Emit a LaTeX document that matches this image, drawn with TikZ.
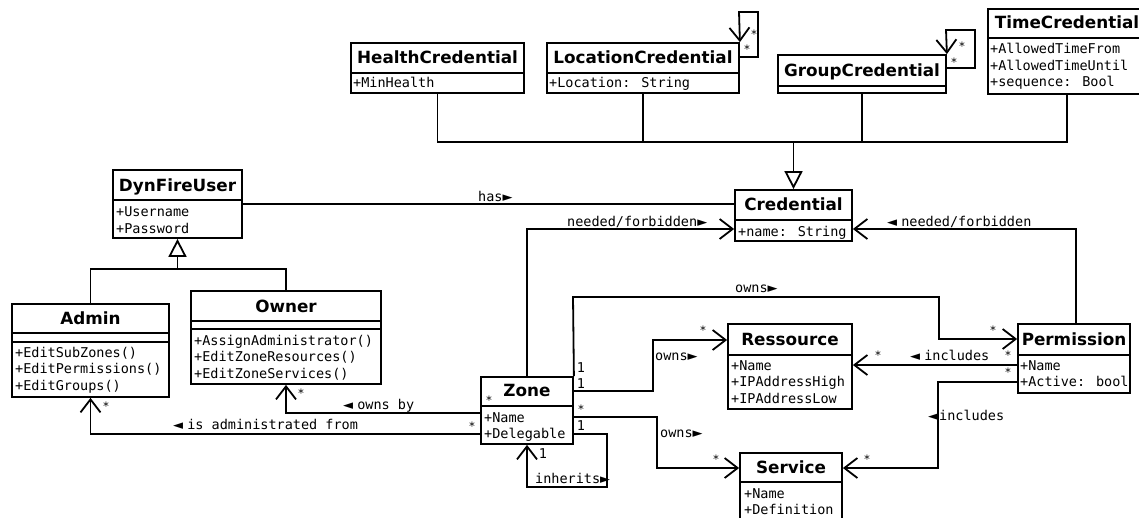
\documentclass[tikz,border=0pt]{standalone}
\usepackage{fontspec}
\usetikzlibrary{arrows.meta,fit}
\newfontfamily\dvsans{DejaVu Sans}
\newfontfamily\dvmono{DejaVu Sans Mono}
\newcommand\ttlfont{\dvsans\bfseries\fontsize{16.8}{20}\selectfont}
\newcommand\mymono{\dvmono\fontsize{13.5}{16.5}\selectfont}
\newcommand\rtri{{\dvsans\fontsize{13}{15}\selectfont ►}}
\newcommand\ltri{{\dvsans\fontsize{13}{15}\selectfont ◄ }}
\newcommand\ltrib{{\dvsans\fontsize{13}{15}\selectfont ◄}\kern1pt}
\tikzset{
  box/.style={draw, line width=1.8pt, inner sep=0pt, fill=white},
  sep/.style={line width=1.8pt},
  ttl/.style={font=\ttlfont, anchor=base, inner sep=0pt},
  att/.style={font=\mymono, anchor=base west, inner sep=0pt},
  lbl/.style={font=\mymono, anchor=base west, inner sep=0pt},
  mul/.style={font=\mymono, anchor=base, inner sep=0pt},
  star/.style={font=\dvmono\fontsize{11.5}{14}\selectfont, anchor=base, inner sep=0pt, yshift=1.1pt},
  conn/.style={line width=1.8pt},
  assoc/.style={conn, -{Straight Barb[length=13pt,width=20pt]}},
  gen/.style={conn, -{Triangle[open,length=18pt,width=18pt,fill=white]}}
}
% name, left, top, right, bottom, divider, title baseline, title
\newcommand\umlclass[8]{%
  \node[box, fit={(#2,#3) (#4,#5)}] (#1) {};
  \draw[sep] (#2,#6) -- (#4,#6);
  \node[ttl] (#1-t) at ({(#2+#4)/2},#7) {#8};
}
\begin{document}
\begin{tikzpicture}[x=1pt,y=-1pt]
\useasboundingbox (0,0) rectangle (1139,517);

% ---------- classes ----------
\umlclass{health}{351}{43}{524}{93}{73}{63.5}{HealthCredential}
\node[att] (health-a1) at (353,87.5) {+MinHealth};

\umlclass{location}{547}{43}{739}{93}{73}{63.5}{LocationCredential}
\node[att] (location-a1) at (549,87.5) {+Location: String};

\umlclass{group}{778}{55}{946}{93}{86}{76}{GroupCredential}

\umlclass{time}{988}{9}{1146}{94}{38}{28}{TimeCredential}
\node[att] (time-a1) at (990,53) {+AllowedTimeFrom};
\node[att] (time-a2) at (990,70) {+AllowedTimeUntil};
\node[att] (time-a3) at (990,86.5) {+sequence: Bool};

\umlclass{credential}{735}{190}{852}{241}{220}{210}{Credential}
\node[att] (credential-a1) at (738,236) {+name: String};

\umlclass{dynuser}{113}{170}{242}{238}{200}{191.5}{DynFireUser}
\node[att] (dynuser-a1) at (116,216) {+Username};
\node[att] (dynuser-a2) at (116,233) {+Password};

\umlclass{admin}{12}{304}{169}{397}{333}{324}{Admin}
\draw[sep] (12,342) -- (169,342);
\node[att] (admin-m1) at (15,357) {+EditSubZones()};
\node[att] (admin-m2) at (15,373.5) {+EditPermissions()};
\node[att] (admin-m3) at (15,390) {+EditGroups()};

\umlclass{owner}{191}{291}{381}{384}{321}{312}{Owner}
\draw[sep] (191,329) -- (381,329);
\node[att] (owner-m1) at (194,345) {+AssignAdministrator()};
\node[att] (owner-m2) at (194,361.5) {+EditZoneResources()};
\node[att] (owner-m3) at (194,378) {+EditZoneServices()};

\umlclass{zone}{481}{377}{573}{444}{406}{396.5}{Zone}
\node[att] (zone-a1) at (484,422) {+Name};
\node[att] (zone-a2) at (484,438) {+Delegable};

\umlclass{ressource}{728}{324}{852}{409}{355}{345}{Ressource}
\node[att] (ressource-a1) at (731,370) {+Name};
\node[att] (ressource-a2) at (731,386.5) {+IPAddressHigh};
\node[att] (ressource-a3) at (731,403) {+IPAddressLow};

\umlclass{permission}{1018}{324}{1130}{393}{355}{345}{Permission}
\node[att] (permission-a1) at (1020,370) {+Name};
\node[att] (permission-a2) at (1020,386.5) {+Active: bool};

\umlclass{service}{740}{453}{842}{524}{482}{473}{Service}
\node[att] (service-a1) at (744,498) {+Name};
\node[att] (service-a2) at (744,514.5) {+Definition};

% ---------- generalizations ----------
\coordinate (credjoin) at (793.5,142);
\draw[conn] (health.south) |- (credjoin);
\draw[conn] (time.south) |- (credjoin);
\draw[conn] (location.south) -- (location.south |- credjoin);
\draw[conn] (group.south) -- (group.south |- credjoin);
\draw[gen] (credjoin) -- (credential.north);

\coordinate (userjoin) at (177.5,269);
\draw[conn] (admin.north) -- (admin.north |- userjoin) -- (owner.north |- userjoin) -- (owner.north);
\draw[gen] (userjoin) -- (dynuser.south);

% ---------- associations ----------
\draw[conn] (dynuser.east |- 0,204) -- (credential.west |- 0,204);
\draw[assoc] (zone.north) |- (credential.west |- 0,229);
\draw[assoc] (1076,0 |- permission.north) |- (credential.east |- 0,229);
\draw[assoc] (zone.north east) -- (573,297) -| (939,339) -- (permission.west |- 0,339);
\draw[assoc] (zone.east |- 0,391) -| (653,340) -- (ressource.west |- 0,340);
\draw[assoc] (zone.east |- 0,417) -| (657,468) -- (service.west |- 0,468);
\draw[assoc] (zone.east |- 0,434) -| (607,487) -| (zone.south);
\draw[assoc] (zone.west |- 0,413) -| (owner.south);
\draw[assoc] (zone.west |- 0,434) -| (admin.south);
\draw[assoc] (permission.west |- 0,365) -- (ressource.east |- 0,365);
\draw[assoc] (permission.west |- 0,382) -| (938,468) -- (service.east |- 0,468);
\draw[assoc] (location.east |- 0,57) -- (758,57) -- (758,12) -- (739,12) -- (location.north east);
\draw[assoc] (group.east |- 0,68) -- (975,68) -- (975,30) -- (946,30) -- (group.north east);

% ---------- labels ----------
\node[lbl] (l-has) at (478,201) {has\rtri};
\node[lbl] (l-nf1) at (567,226) {needed/forbidden\rtri};
\node[lbl] (l-nf2) at (887,226) {\ltri needed/forbidden};
\node[lbl] (l-own1) at (735,292) {owns\rtri};
\node[lbl] (l-own2) at (655,360) {owns\rtri};
\node[lbl] (l-own3) at (660,437) {owns\rtri};
\node[lbl] (l-inc1) at (910,360) {\ltri includes};
\node[lbl] (l-inc2) at (928,420) {\ltrib includes};
\node[lbl] (l-inh) at (535,483) {inherits\rtri};
\node[lbl] (l-ownby) at (343,409) {\ltri owns by};
\node[lbl] (l-adm) at (173,429) {\ltri is administrated from};

% ---------- multiplicities ----------
\node[star] (m1) at (754,39.8) {*};
\node[star] (m2) at (747,54.8) {*};
\node[star] (m3) at (962,51.8) {*};
\node[star] (m4) at (954,67.8) {*};
\node[star] (m5) at (106,411.8) {*};
\node[star] (m6) at (301,398.8) {*};
\node[star] (m7) at (489,405.8) {*};
\node[star] (m8) at (472,431.8) {*};
\node[mul] (m9) at (581,372) {1};
\node[mul] (m10) at (581,388) {1};
\node[star] (m11) at (581,414.8) {*};
\node[mul] (m12) at (581,430) {1};
\node[mul] (m13) at (543,458) {1};
\node[star] (m14) at (703,335.8) {*};
\node[star] (m15) at (878,360.8) {*};
\node[star] (m16) at (993,335.8) {*};
\node[star] (m17) at (1008,360.8) {*};
\node[star] (m18) at (1008,377.8) {*};
\node[star] (m19) at (716,464.8) {*};
\node[star] (m20) at (867,464.8) {*};
\end{tikzpicture}
\end{document}
